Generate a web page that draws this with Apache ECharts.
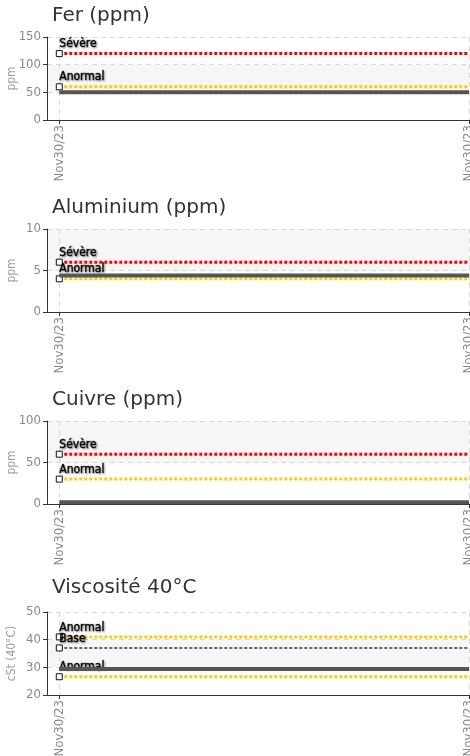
<!DOCTYPE html>
<html><head><meta charset="utf-8">
<script src="https://cdn.jsdelivr.net/npm/echarts@6/dist/echarts.min.js"></script>
<style>html,body{margin:0;padding:0;background:#fff}#c{width:470px;height:756px}</style>
</head><body><div id="c"></div>
<script>
const dates = ['Nov30/23', 'Nov30/23'];
const titles = ['Fer (ppm)', 'Aluminium (ppm)', 'Cuivre (ppm)', 'Viscosité 40°C'];
const yNames = ['ppm', 'ppm', 'ppm', 'cSt (40°C)'];
const yMins = [0, 0, 0, 20];
const yMaxs = [150, 10, 100, 50];
const yIntervals = [50, 5, 50, 10];

const ferValues = [50, 50];
const ferSevere = [120, 120];
const ferAnormal = [60, 60];

const aluValues = [4.4, 4.4];
const aluSevere = [6, 6];
const aluAnormal = [4, 4];

const cuValues = [2, 2];
const cuSevere = [60, 60];
const cuAnormal = [30, 30];

const viscValues = [29.4, 29.4];
const viscAnormalHigh = [41, 41];
const viscBase = [37, 37];
const viscAnormalLow = [26.6, 26.6];

const gridTops = [37, 229, 421, 612];
const titleTops = [1, 193, 385, 573];
const GRID_H = 83;
const NARROW = "'DejaVu Sans Condensed', 'Liberation Sans Narrow', 'Roboto Condensed', sans-serif";

const labelStyle = {
  show: true, position: 'top', align: 'left', distance: 0,
  fontFamily: NARROW, fontWeight: 'normal', fontSize: 12, color: '#000',
  textBorderColor: 'rgba(0,0,0,0.55)', textBorderWidth: 0.7,
  textShadowColor: 'rgba(0,0,0,0.4)', textShadowBlur: 2, textShadowOffsetX: 1, textShadowOffsetY: 1
};

function pts(vals) { return vals.map((v, i) => [i, v]); }

function limitSeries(idx, name, vals, color, width, dash) {
  return {
    type: 'line', name: name, xAxisIndex: idx, yAxisIndex: idx,
    data: vals.map((v, i) => ({
      value: [i, v],
      symbol: i === 0 ? 'rect' : 'none',
      symbolSize: 6,
      label: i === 0 ? Object.assign({ formatter: name }, labelStyle) : { show: false }
    })),
    lineStyle: { color: color, width: width, type: dash },
    itemStyle: { color: '#fff', borderColor: '#111', borderWidth: 1 },
    showSymbol: true, z: 3, silent: true
  };
}
function dataSeries(idx, vals) {
  return {
    type: 'line', xAxisIndex: idx, yAxisIndex: idx, data: pts(vals),
    showSymbol: false, symbol: 'none',
    lineStyle: { color: '#555', width: 4 }, z: 4, silent: true
  };
}

const grids = [], xAxes = [], yAxes = [], titleList = [];
for (let k = 0; k < 4; k++) {
  grids.push({ left: 47, right: 1, top: gridTops[k], height: GRID_H,
    containLabel: false, outerBoundsMode: 'none' });
  titleList.push({ text: titles[k], left: 47, top: titleTops[k],
    textStyle: { fontFamily: 'DejaVu Sans', fontSize: 20, fontWeight: 'normal', color: '#333' } });
  xAxes.push({
    gridIndex: k, type: 'value', min: -0.03, max: 1,
    axisLine: { show: true, onZero: false, lineStyle: { color: '#333', width: 1 } },
    axisTick: { show: true, customValues: [0, 1], length: 4, lineStyle: { color: '#333' } },
    axisLabel: { customValues: [0, 1], rotate: 90, margin: 5, color: '#8a8a8a',
      fontFamily: NARROW, fontSize: 13, formatter: v => dates[Math.round(v)] },
    splitLine: { show: true, lineStyle: { color: '#d8d8d8', type: [5, 4] } }
  });
  yAxes.push({
    gridIndex: k, type: 'value', min: yMins[k], max: yMaxs[k], interval: yIntervals[k],
    name: yNames[k], nameLocation: 'middle', nameGap: 29, nameRotate: 90, nameMoveOverlap: false,
    nameTextStyle: { color: '#a0a0a0', fontFamily: NARROW, fontSize: 12 },
    axisLine: { show: true, onZero: false, lineStyle: { color: '#333', width: 1 } },
    axisTick: { show: true, length: 4, inside: false, lineStyle: { color: '#333' } },
    axisLabel: { color: '#8a8a8a', fontFamily: NARROW, fontSize: 13, margin: 6 },
    splitLine: { show: true, lineStyle: { color: '#d8d8d8', type: [5, 4] } },
    splitArea: { show: true, areaStyle: { color: ['rgba(255,255,255,0)', '#f6f6f6'] } }
  });
}

const RED = '#ff0000', YEL = '#ffcc00', DOT = [3, 2];
const series = [
  dataSeries(0, ferValues),
  limitSeries(0, 'Sévère', ferSevere, RED, 3, DOT),
  limitSeries(0, 'Anormal', ferAnormal, YEL, 3, DOT),
  limitSeries(1, 'Sévère', aluSevere, RED, 3, DOT),
  limitSeries(1, 'Anormal', aluAnormal, YEL, 3, DOT),
  dataSeries(1, aluValues),
  dataSeries(2, cuValues),
  limitSeries(2, 'Sévère', cuSevere, RED, 3, DOT),
  limitSeries(2, 'Anormal', cuAnormal, YEL, 3, DOT),
  dataSeries(3, viscValues),
  limitSeries(3, 'Anormal', viscAnormalHigh, YEL, 3, DOT),
  limitSeries(3, 'Base', viscBase, '#666', 2, DOT),
  limitSeries(3, 'Anormal', viscAnormalLow, YEL, 3, DOT)
];

const chart = echarts.init(document.getElementById('c'), null, { renderer: 'canvas' });
chart.setOption({
  animation: false,
  title: titleList, grid: grids, xAxis: xAxes, yAxis: yAxes, series: series
});
</script></body></html>
